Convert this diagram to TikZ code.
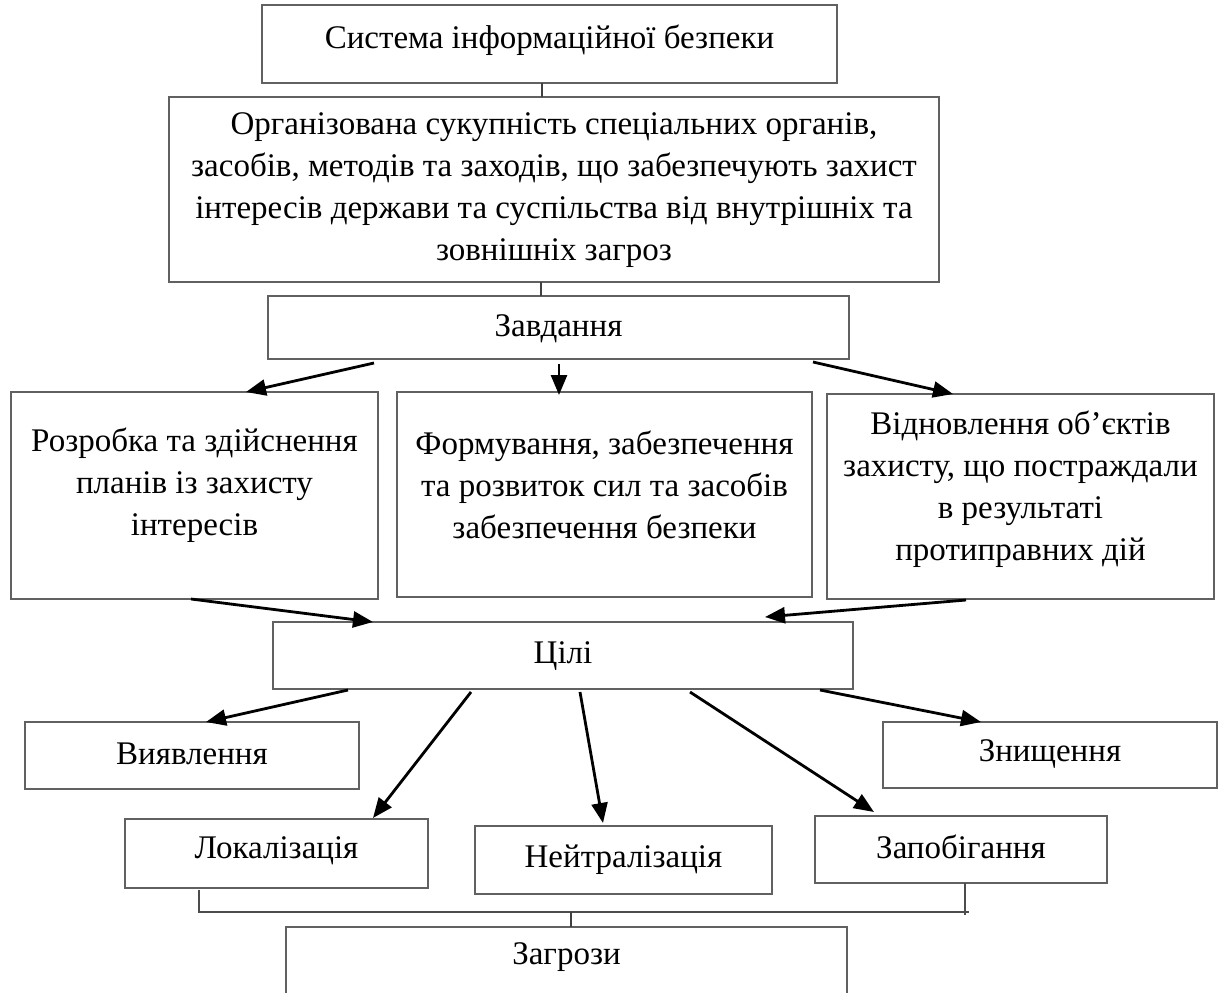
\documentclass[tikz,border=0pt]{standalone}
\usepackage{fontspec}
\setmainfont{Liberation Serif}
\usetikzlibrary{arrows.meta}
\begin{document}
\begin{tikzpicture}[x=1pt,y=-1pt,
  box/.style={draw=black!62, line width=1.6pt, rectangle, anchor=north west, inner sep=0pt, outer sep=0pt},
  txt/.style={align=center, inner sep=0pt, font=\fontsize{33}{42}\selectfont},
  arr/.style={draw=black, line width=2.8pt, -{Triangle[length=20pt,width=16pt]}},
  thin/.style={draw=black!75, line width=1.5pt},
  brk/.style={draw=black!70, line width=2.2pt}]
\useasboundingbox (0,0) rectangle (1218,993);
% boxes
\node[box, minimum width=575pt, minimum height=78pt] (b1) at (262,5) {};
\node[box, minimum width=770pt, minimum height=185pt] (b2) at (169,97) {};
\node[box, minimum width=581pt, minimum height=63pt] (b3) at (268,296) {};
\node[box, minimum width=367pt, minimum height=207pt] (b4) at (11,392) {};
\node[box, minimum width=415pt, minimum height=205pt] (b5) at (397,392) {};
\node[box, minimum width=387pt, minimum height=205pt] (b6) at (827,394) {};
\node[box, minimum width=580pt, minimum height=67pt] (tsili) at (273,622) {};
\node[box, minimum width=334pt, minimum height=67pt] (vyav) at (25,722) {};
\node[box, minimum width=334pt, minimum height=66pt] (znysh) at (883,722) {};
\node[box, minimum width=303pt, minimum height=69pt] (lok) at (125,819) {};
\node[box, minimum width=297pt, minimum height=68pt] (neit) at (475,826) {};
\node[box, minimum width=292pt, minimum height=67pt] (zap) at (815,816) {};
\node[box, minimum width=561pt, minimum height=80pt] (zag) at (286,927) {};
% texts
\node[txt] (t1) at ([yshift=4pt]b1.center) {Система інформаційної безпеки};
\node[txt] (t2) at ([yshift=-1pt]b2.center) {Організована сукупність спеціальних органів,\\засобів, методів та заходів, що забезпечують захист\\інтересів держави та суспільства від внутрішніх та\\зовнішніх загроз};
\node[txt] (t3) at ([yshift=-1pt]b3.center) {Завдання};
\node[txt] (t4) at ([yshift=10pt]b4.center) {Розробка та здійснення\\планів із захисту\\інтересів};
\node[txt] (t5) at ([yshift=10pt]b5.center) {Формування, забезпечення\\та розвиток сил та засобів\\забезпечення безпеки};
\node[txt] (t6) at ([yshift=7pt]b6.center) {Відновлення об’єктів\\захисту, що постраждали\\в результаті\\протиправних дій};
\node[txt] (t7) at ([yshift=-1pt]tsili.center) {Цілі};
\node[txt] (t8) at ([yshift=2pt]vyav.center) {Виявлення};
\node[txt] (t9) at ([yshift=1pt]znysh.center) {Знищення};
\node[txt] (t10) at ([yshift=3pt]lok.center) {Локалізація};
\node[txt] (t11) at (neit.center) {Нейтралізація};
\node[txt] (t12) at ([yshift=3pt]zap.center) {Запобігання};
\node[txt] (t13) at ([yshift=10pt]zag.center) {Загрози};
% plain connectors
\draw[thin] ([xshift=-7.5pt]b1.south) -- ([xshift=-7.5pt]b1.south |- b2.north);
\draw[thin] ([xshift=-13pt]b2.south) -- ([xshift=-13pt]b2.south |- b3.north);
% arrows Завдання -> tasks
\draw[arr] ([xshift=-184.5pt,yshift=-4pt]b3.south) -- ([xshift=51.5pt]b4.north);
\draw[arr] ([xshift=0.5pt,yshift=-5pt]b3.south) -- ([xshift=-45.5pt,yshift=-3pt]b5.north);
\draw[arr] ([xshift=254.5pt,yshift=-3pt]b3.south) -- ([xshift=-67.5pt]b6.north);
% tasks -> Цілі
\draw[arr] ([xshift=-3.5pt]b4.south) -- ([xshift=-190pt]tsili.north);
\draw[arr] ([xshift=-54.5pt,yshift=-1pt]b6.south) -- ([xshift=202pt,yshift=5pt]tsili.north);
% Цілі -> goals
\draw[arr] ([xshift=-215pt,yshift=-1pt]tsili.south) -- ([xshift=14pt]vyav.north);
\draw[arr] ([xshift=-92pt,yshift=-3pt]tsili.south) -- ([xshift=96.5pt,yshift=1pt]lok.north);
\draw[arr] ([xshift=17pt,yshift=-3pt]tsili.south) -- ([xshift=-20.5pt,yshift=3pt]neit.north);
\draw[arr] ([xshift=127pt,yshift=-3pt]tsili.south) -- ([xshift=-87pt,yshift=4pt]zap.north);
\draw[arr] ([xshift=257pt,yshift=-1pt]tsili.south) -- ([xshift=-69pt]znysh.north);
% bracket to Загрози
\coordinate (bl) at ([xshift=-77.5pt,yshift=-24pt]lok.south);
\coordinate (br) at ([xshift=8pt,yshift=-29pt]zap.south);
\coordinate (bm) at ([xshift=4.5pt,yshift=15pt]zag.north);
\draw[brk] ([xshift=-77.5pt,yshift=-2pt]lok.south) -- (bl) -- (br);
\draw[brk] ([xshift=4pt]zap.south) -- ([xshift=4pt,yshift=-32pt]zap.south);
\draw[thin] (bm) -- (bm |- zag.north);
\end{tikzpicture}
\end{document}
